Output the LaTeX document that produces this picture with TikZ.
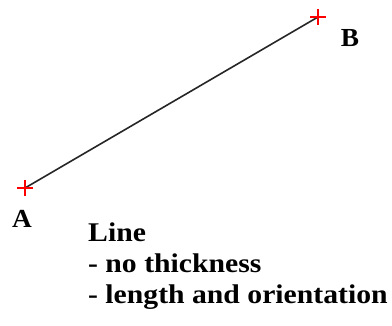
\documentclass[tikz,border=0pt]{standalone}
\usepackage{fontspec}
\setmainfont{Liberation Serif}
\usetikzlibrary{calc}
\begin{document}
\begin{tikzpicture}[x=1pt,y=-1pt,
  crossmark/.style={draw=red,line width=1.2pt},
  ptlabel/.style={font=\fontsize{26}{26}\selectfont\bfseries\addfontfeature{FakeStretch=1.05},inner sep=0pt,anchor=base},
  desc/.style={font=\fontsize{27}{31}\selectfont\bfseries\addfontfeature{FakeStretch=1.1},inner sep=0pt,anchor=base west}]
\useasboundingbox (0,0) rectangle (392,326);
\coordinate (A) at (25,188);
\coordinate (B) at (318,17);
\draw[line width=1.6pt,black!85] (A) -- (B);
\draw[crossmark] ($(A)+(-8,0)$) -- ($(A)+(8,0)$) ($(A)+(0,-8)$) -- ($(A)+(0,8)$);
\draw[crossmark] ($(B)+(-8,0)$) -- ($(B)+(8,0)$) ($(B)+(0,-8)$) -- ($(B)+(0,8)$);
\node[ptlabel] (la) at (22,228) {A};
\node[ptlabel] (lb) at (350,47) {B};
\node[desc] (t1) at (88,242) {Line};
\node[desc] (t2) at (88,273) {- no thickness};
\node[desc] (t3) at (88,304) {- length and orientation};
\end{tikzpicture}
\end{document}
